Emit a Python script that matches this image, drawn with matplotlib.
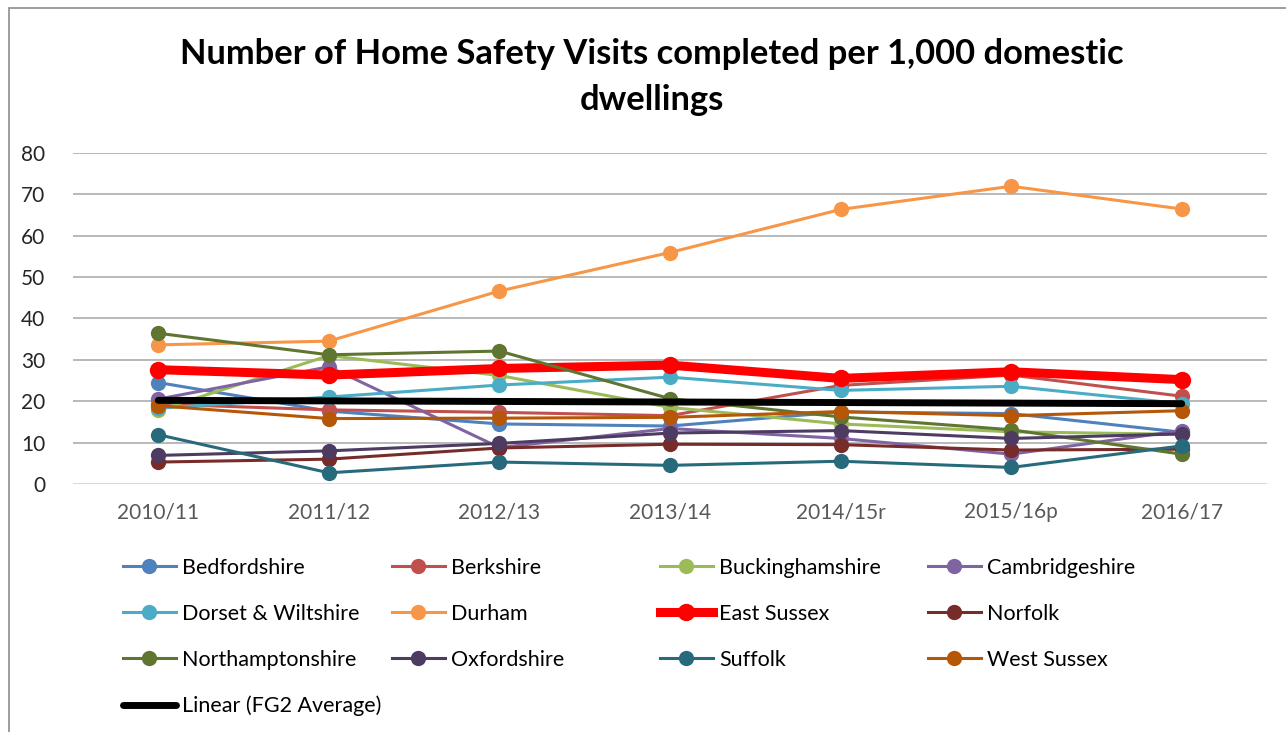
import matplotlib.pyplot as plt
from matplotlib.patches import Rectangle

# Chart values
years = ['2010/11', '2011/12', '2012/13', '2013/14', '2014/15r', '2015/16p', '2016/17']

bedfordshire = [24.5, 17.6, 14.5, 14.0, 17.4, 17.0, 12.5]
berkshire = [19.3, 17.9, 17.3, 16.5, 23.8, 26.3, 21.2]
buckinghamshire = [17.8, 31.0, 26.2, 18.5, 14.5, 12.6, 12.0]
cambridgeshire = [20.5, 28.3, 8.8, 13.4, 11.0, 7.2, 12.9]
dorset_wiltshire = [18.3, 21.0, 23.9, 25.8, 22.6, 23.6, 19.4]
durham = [33.6, 34.5, 46.6, 55.9, 66.3, 71.9, 66.4]
east_sussex = [27.6, 26.3, 27.9, 28.7, 25.5, 27.1, 25.2]
norfolk = [5.3, 6.0, 8.7, 9.6, 9.5, 8.2, 8.4]
northamptonshire = [36.4, 31.2, 32.1, 20.6, 16.2, 13.1, 7.2]
oxfordshire = [6.9, 8.0, 9.8, 12.3, 12.9, 11.0, 12.1]
suffolk = [11.9, 2.7, 5.3, 4.5, 5.5, 4.0, 9.2]
west_sussex = [18.9, 15.8, 15.9, 16.1, 17.5, 16.5, 17.7]

# Linear trend of the FG2 average (start and end value)
fg2_trend = [20.2, 19.4]

series_names = ['Bedfordshire', 'Berkshire', 'Buckinghamshire', 'Cambridgeshire',
                'Dorset & Wiltshire', 'Durham', 'East Sussex', 'Norfolk',
                'Northamptonshire', 'Oxfordshire', 'Suffolk', 'West Sussex']
series_values = [bedfordshire, berkshire, buckinghamshire, cambridgeshire,
                 dorset_wiltshire, durham, east_sussex, norfolk,
                 northamptonshire, oxfordshire, suffolk, west_sussex]
series_colors = ['#4F81BD', '#C0504D', '#9BBB59', '#8064A2',
                 '#4BACC6', '#F79646', '#FF0000', '#772C2A',
                 '#5F7530', '#4D3B62', '#276A7C', '#B65708']

plt.rcParams['font.family'] = ['Lato', 'DejaVu Sans']

W, H = 1286, 732
fig = plt.figure(figsize=(W / 100, H / 100), dpi=100)

# Chart-area border (gray frame, left and top visible)
fig.patches.append(Rectangle((9 / W, -0.05), 1.2, 1 - 8 / H + 0.05,
                             transform=fig.transFigure, fill=False,
                             edgecolor='#8C8C8C', linewidth=1.2))

ax = fig.add_axes([73 / W, 1 - 484 / H, (1267 - 73) / W, (484 - 152.7) / H])

x = list(range(len(years)))
handles = []
for i, (name, vals, col) in enumerate(zip(series_names, series_values, series_colors)):
    if name == 'East Sussex':
        lw, ms = 6.5, 12.5
    else:
        lw, ms = 2.2, 11
    line, = ax.plot(x, vals, color=col, linewidth=lw, marker='o', markersize=ms,
                    markeredgewidth=0, label=name, zorder=3 + i * 0.1,
                    solid_joinstyle='round')
    handles.append(line)

trend, = ax.plot([x[0], x[-1]], fg2_trend, color='black', linewidth=5,
                 solid_capstyle='round', zorder=10, label='Linear (FG2 Average)')
handles.append(trend)

ax.set_xlim(-0.5, len(years) - 0.5)
ax.set_ylim(0, 80)
ax.set_yticks(range(0, 81, 10))
ax.set_xticks(x)
ax.set_xticklabels(years, fontsize=15, color='#595959')
ax.tick_params(axis='y', labelsize=15, labelcolor='#262626', length=0, pad=20)
ax.tick_params(axis='x', length=0, pad=13)
for s in ax.spines.values():
    s.set_visible(False)
ax.grid(axis='y', color='#A6A6A6', linewidth=1.1, zorder=0)
ax.axhline(0, color='#D9D9D9', linewidth=1.4, zorder=1)
ax.set_axisbelow(True)

fig.text(652 / W, 1 - 77 / H,
         'Number of Home Safety Visits completed per 1,000 domestic\ndwellings',
         ha='center', va='center', fontsize=24.8, fontweight='bold',
         linespacing=1.5)

# Legend: four columns at even spacing, filled row by row
col_x = [123, 392, 660, 928]
columns = [[0, 4, 8, 12], [1, 5, 9], [2, 6, 10], [3, 7, 11]]
for cx, idx in zip(col_x, columns):
    fig.legend([handles[k] for k in idx], [handles[k].get_label() for k in idx],
               loc='upper left', bbox_to_anchor=(cx / W, 1 - 558 / H),
               frameon=False, fontsize=15.5, handlelength=2.45, handletextpad=0.3,
               labelspacing=1.2, borderpad=0, borderaxespad=0)

fig.savefig('out.png', dpi=100)
